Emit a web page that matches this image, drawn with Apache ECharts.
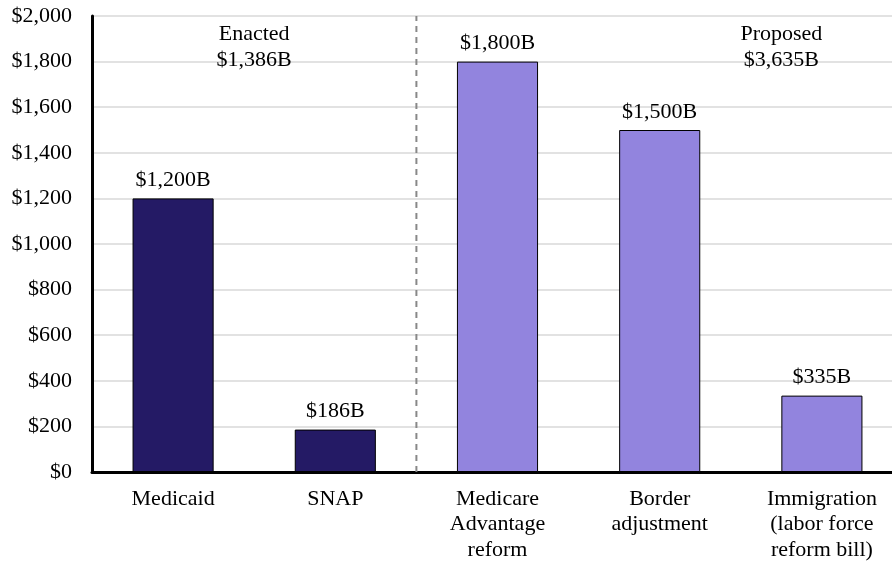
<!DOCTYPE html>
<html>
<head>
<meta charset="utf-8">
<script src="https://cdn.jsdelivr.net/npm/echarts@6/dist/echarts.min.js"></script>
<style>
  html, body { margin: 0; padding: 0; background: #fff; }
  #chart { width: 892px; height: 563px; }
</style>
</head>
<body>
<div id="chart"></div>
<script>
// Budget items (billions of dollars)
var categories = ['Medicaid', 'SNAP', 'Medicare\nAdvantage\nreform', 'Border\nadjustment', 'Immigration\n(labor force\nreform bill)'];
var values = [1200, 186, 1800, 1500, 335];
var groups = ['enacted', 'enacted', 'proposed', 'proposed', 'proposed'];

// Group summary notes, positioned on a 0–5 overlay scale
var noteText = ['Enacted\n$1,386B', 'Proposed\n$3,635B'];
var noteX = [1.0, 4.25];
var noteY = [1865, 1865];

// Divider between enacted and proposed items
var dividerX = 2;

var yTicks = { min: 0, max: 2000, interval: 200 };

var groupColors = { enacted: '#241A65', proposed: '#9284DE' };
var FONT = '"Liberation Serif", "Times New Roman", serif';
var FS = 22;

var chart = echarts.init(document.getElementById('chart'), null, { renderer: 'canvas' });

var barData = values.map(function (v, i) {
  return { value: v, itemStyle: { color: groupColors[groups[i]] } };
});

var noteData = noteText.map(function (t, i) {
  return { name: t, value: [noteX[i], noteY[i]] };
});

chart.setOption({
  animation: false,
  backgroundColor: '#ffffff',
  // plot area runs slightly past the right edge of the canvas
  grid: { left: 92, width: 811, top: 16, bottom: 91, containLabel: false, outerBoundsMode: 'none' },
  xAxis: [{
    type: 'category',
    data: categories,
    axisLine: { lineStyle: { color: '#000', width: 3 } },
    axisTick: { show: false },
    axisLabel: { color: '#000', fontFamily: FONT, fontSize: FS, lineHeight: 25.5, margin: 14, interval: 0 }
  }, {
    type: 'value',
    min: 0, max: 5,
    show: false
  }],
  yAxis: {
    type: 'value',
    min: yTicks.min, max: yTicks.max, interval: yTicks.interval,
    axisLine: { show: true, lineStyle: { color: '#000', width: 3 } },
    axisTick: { show: false },
    splitLine: { lineStyle: { color: '#d9d9d9', width: 1.5 } },
    axisLabel: {
      color: '#000', fontFamily: FONT, fontSize: FS, margin: 20,
      formatter: function (v) { return '$' + v.toLocaleString('en-US'); }
    }
  },
  series: [{
    type: 'bar',
    data: barData,
    barWidth: '50%',
    itemStyle: { borderColor: '#000', borderWidth: 1 },
    label: {
      show: true, position: 'top', distance: 7,
      color: '#000', fontFamily: FONT, fontSize: FS,
      formatter: function (p) { return '$' + p.value.toLocaleString('en-US') + 'B'; }
    },
    z: 3
  }, {
    type: 'line',
    xAxisIndex: 1,
    data: [[dividerX, yTicks.min], [dividerX, yTicks.max]],
    symbol: 'none',
    lineStyle: { color: '#888888', width: 2, type: [6, 5] },
    z: 2,
    silent: true
  }, {
    type: 'scatter',
    xAxisIndex: 1,
    data: noteData,
    symbolSize: 0,
    itemStyle: { opacity: 1 },
    label: {
      show: true, position: 'inside', opacity: 1,
      color: '#000', fontFamily: FONT, fontSize: FS, lineHeight: 26, align: 'center',
      formatter: function (p) { return p.name; }
    },
    silent: true
  }]
});
</script>
</body>
</html>
